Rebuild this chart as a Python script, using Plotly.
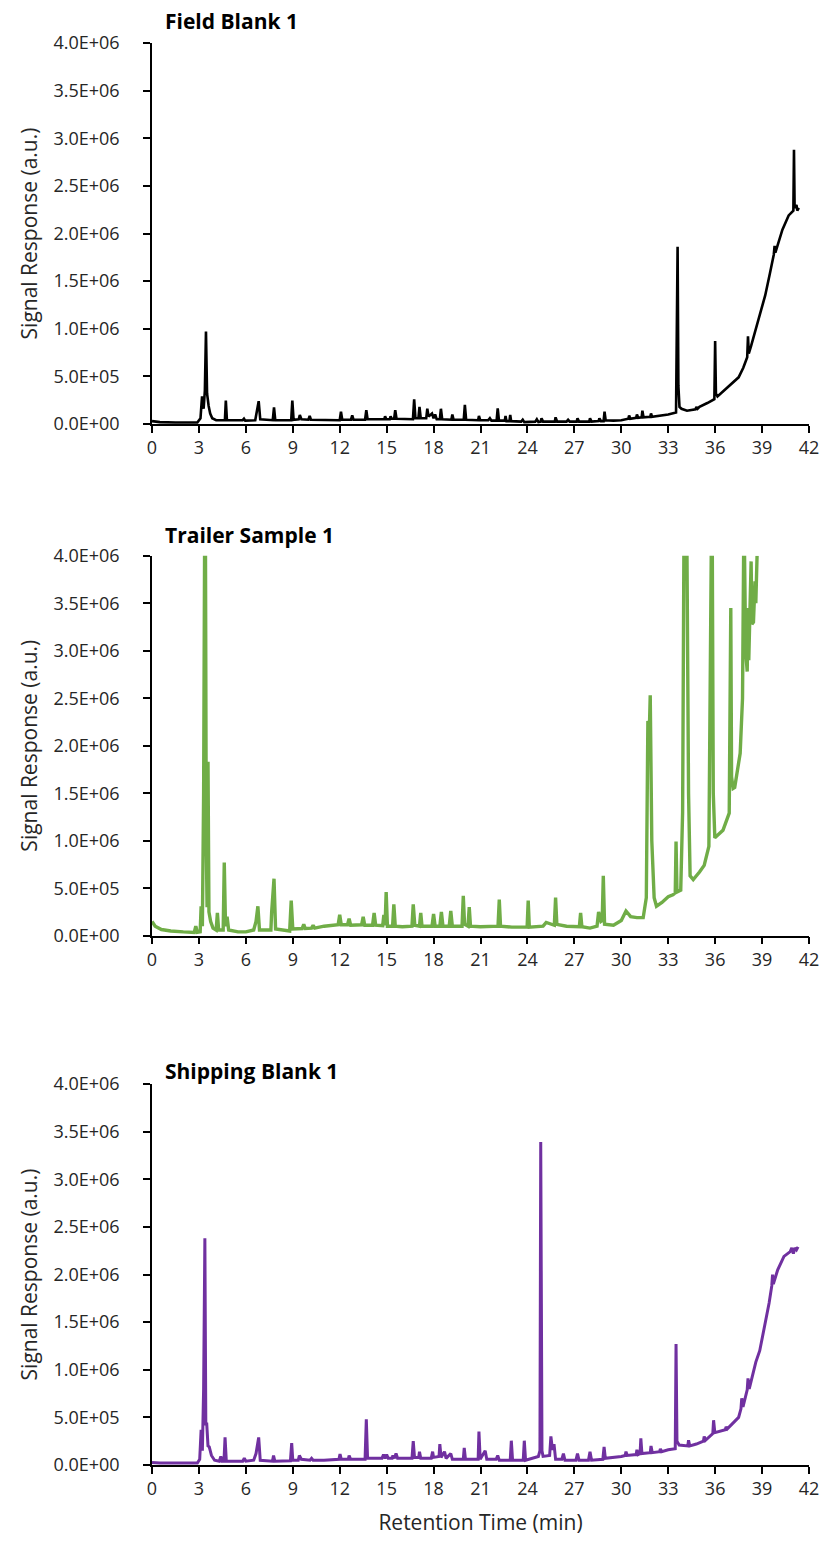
import plotly.graph_objects as go

# ---------------- data ----------------
fb_t = [0.0, 0.5, 1.5, 2.9, 3.1, 3.2, 3.3, 3.38, 3.45, 3.52, 3.62, 3.72, 3.85, 4.1, 4.66, 4.72, 4.79,
        5.8, 5.88, 5.96, 6.6, 6.72, 6.82, 6.92, 7.72, 7.8, 7.88, 8.9, 8.97, 9.05, 9.38, 9.45, 9.55,
        10.0, 10.08, 10.16, 11.0, 12.0, 12.08, 12.16, 12.72, 12.8, 12.88, 13.62, 13.7, 13.78,
        14.85, 14.9, 14.98, 15.2, 15.25, 15.33, 15.48, 15.55, 15.63, 16.68, 16.76, 16.84,
        17.03, 17.1, 17.18, 17.53, 17.6, 17.68, 17.9, 18.0, 18.1, 18.2, 18.4, 18.47, 18.55,
        19.14, 19.2, 19.28, 19.93, 20.0, 20.08, 20.85, 20.9, 20.98, 21.5, 21.6, 21.7,
        22.03, 22.1, 22.18, 22.55, 22.6, 22.66, 22.85, 22.9, 22.96, 23.6, 23.7, 23.8,
        24.5, 24.6, 24.7, 24.85, 24.9, 25.0, 25.75, 25.8, 25.9, 26.5, 26.6, 26.7,
        27.15, 27.2, 27.3, 27.95, 28.0, 28.1, 28.55, 28.6, 28.7, 28.87, 28.93, 29.0,
        29.5, 30.0, 30.45, 30.5, 30.58, 30.95, 31.0, 31.08, 31.3, 31.35, 31.42,
        31.85, 31.9, 31.97, 32.5, 33.0, 33.5, 33.55, 33.6, 33.65, 33.72, 33.85, 34.2,
        34.75, 34.8, 34.88, 35.0, 35.5, 35.95, 36.0, 36.05, 36.15, 36.5, 37.0, 37.5,
        37.8, 38.05, 38.1, 38.15, 38.3, 38.8, 39.2, 39.5, 39.75, 39.8, 39.85, 40.3,
        40.7, 41.0, 41.04, 41.08, 41.2, 41.25, 41.35]
fb_s = [3.0e4, 2.0e4, 1.5e4, 1.5e4, 6.0e4, 2.9e5, 1.6e5, 3.5e5, 9.7e5, 3.2e5, 1.9e5, 1.1e5, 6.0e4, 4.0e4, 4.0e4, 2.45e5, 4.0e4,
        4.0e4, 5.5e4, 3.5e4, 4.0e4, 1.5e5, 2.4e5, 5.0e4, 4.0e4, 1.75e5, 4.0e4, 4.0e4, 2.45e5, 4.5e4, 5.0e4, 9.5e4, 5.0e4,
        4.5e4, 8.5e4, 4.5e4, 4.0e4, 4.0e4, 1.3e5, 4.5e4, 4.5e4, 9.0e4, 4.5e4, 4.5e4, 1.45e5, 5.0e4,
        5.0e4, 8.0e4, 5.0e4, 5.0e4, 8.0e4, 5.5e4, 5.5e4, 1.45e5, 5.5e4, 5.0e4, 2.6e5, 6.0e4,
        6.0e4, 1.8e5, 6.0e4, 6.0e4, 1.6e5, 8.0e4, 1.1e5, 6.0e4, 1.0e5, 5.0e4, 5.0e4, 1.6e5, 5.0e4,
        4.5e4, 1.0e5, 4.5e4, 4.5e4, 2.0e5, 4.5e4, 4.0e4, 8.5e4, 4.0e4, 4.0e4, 6.0e4, 3.5e4,
        3.5e4, 1.65e5, 3.5e4, 3.5e4, 8.5e4, 3.0e4, 3.0e4, 9.5e4, 3.0e4, 2.5e4, 4.5e4, 2.0e4,
        2.5e4, 5.0e4, 2.0e4, 2.5e4, 6.0e4, 2.5e4, 2.5e4, 7.0e4, 2.5e4, 2.5e4, 4.5e4, 2.5e4,
        2.5e4, 6.0e4, 2.5e4, 2.5e4, 6.0e4, 2.5e4, 3.0e4, 6.0e4, 3.0e4, 3.0e4, 1.3e5, 4.0e4,
        3.5e4, 4.0e4, 5.5e4, 9.0e4, 5.5e4, 6.5e4, 1.0e5, 6.5e4, 7.0e4, 1.4e5, 7.0e4,
        7.5e4, 1.1e5, 7.5e4, 8.5e4, 1.0e5, 1.2e5, 1.2e6, 1.86e6, 4.0e5, 1.8e5, 1.6e5, 1.4e5,
        1.55e5, 1.8e5, 1.6e5, 1.8e5, 2.2e5, 2.6e5, 8.7e5, 3.2e5, 2.9e5, 3.4e5, 4.1e5, 4.9e5,
        5.9e5, 7.0e5, 9.2e5, 7.4e5, 8.2e5, 1.1e6, 1.35e6, 1.58e6, 1.78e6, 1.87e6, 1.8e6, 2.04e6,
        2.19e6, 2.24e6, 2.88e6, 2.27e6, 2.3e6, 2.24e6, 2.27e6]

tr_t = [0.0, 0.2, 0.6, 1.2, 2.0, 2.7, 2.8, 2.9, 3.08, 3.14, 3.22, 3.3, 3.36, 3.42, 3.47, 3.52, 3.58, 3.64,
        3.75, 3.9, 4.1, 4.18, 4.26, 4.55, 4.62, 4.7, 4.8, 4.9, 5.5, 6.0, 6.5, 6.65, 6.77, 6.87,
        7.6, 7.65, 7.8, 7.9, 8.8, 8.9, 9.0, 9.6, 9.7, 9.8, 10.2, 10.3, 10.4, 11.0, 11.9, 12.0, 12.1,
        12.5, 12.6, 12.7, 13.4, 13.5, 13.6, 14.1, 14.2, 14.3, 14.75, 14.82, 14.9, 14.97, 15.05,
        15.38, 15.46, 15.55, 16.0, 16.62, 16.7, 16.8, 17.1, 17.18, 17.26, 17.9, 18.0, 18.1,
        18.4, 18.5, 18.6, 19.0, 19.1, 19.2, 19.82, 19.9, 19.98, 20.2, 20.28, 20.36, 21.0, 21.5,
        22.12, 22.2, 22.28, 23.0, 23.98, 24.05, 24.12, 25.0, 25.2, 25.72, 25.8, 25.88, 26.5,
        27.32, 27.4, 27.48, 28.0, 28.45, 28.55, 28.7, 28.78, 28.85, 28.93, 29.5, 30.0, 30.3,
        30.6, 31.0, 31.4, 31.6, 31.7, 31.8, 31.85, 31.95, 32.1, 32.25, 32.6, 33.0, 33.3, 33.45,
        33.5, 33.56, 33.8, 33.92, 34.0, 34.2, 34.3, 34.4, 34.6, 35.0, 35.3, 35.6, 35.7, 35.75,
        35.82, 35.88, 35.98, 36.5, 36.9, 36.95, 37.0, 37.05, 37.15, 37.25, 37.6, 37.75, 37.82,
        37.88, 37.95, 38.05, 38.1, 38.15, 38.3, 38.35, 38.45, 38.55, 38.6, 38.68]
tr_s = [1.5e5, 1.0e5, 6.5e4, 5.0e4, 4.0e4, 3.5e4, 1.0e5, 3.5e4, 4.0e4, 3.1e5, 1.0e5, 1.5e6, 4.0e6, 4.0e6, 1.0e6, 3.0e5, 1.83e6, 2.5e5,
        1.5e5, 8.0e4, 6.0e4, 2.4e5, 6.0e4, 6.0e4, 7.7e5, 1.0e5, 2.0e5, 6.0e4, 4.0e4, 4.0e4, 6.0e4, 1.5e5, 3.1e5, 6.0e4,
        6.0e4, 2.5e5, 6.0e5, 7.0e4, 5.0e4, 3.7e5, 7.0e4, 7.5e4, 1.2e5, 7.5e4, 8.0e4, 1.1e5, 8.0e4, 1.0e5, 1.15e5, 2.2e5, 1.15e5,
        1.15e5, 1.8e5, 1.1e5, 1.15e5, 2.0e5, 1.1e5, 1.1e5, 2.4e5, 1.1e5, 1.05e5, 2.2e5, 1.1e5, 4.6e5, 1.0e5,
        1.0e5, 3.3e5, 1.0e5, 9.5e4, 1.0e5, 3.3e5, 1.1e5, 1.0e5, 2.4e5, 1.0e5, 1.0e5, 2.3e5, 1.0e5,
        1.0e5, 2.5e5, 1.0e5, 1.0e5, 2.6e5, 1.0e5, 1.0e5, 4.2e5, 1.2e5, 1.0e5, 3.0e5, 1.0e5, 9.5e4, 1.0e5,
        1.0e5, 3.8e5, 1.0e5, 9.0e4, 9.0e4, 3.7e5, 9.0e4, 1.0e5, 1.4e5, 1.1e5, 4.0e5, 1.2e5, 1.0e5,
        9.5e4, 2.4e5, 9.5e4, 8.0e4, 1.0e5, 2.5e5, 1.5e5, 1.6e5, 6.3e5, 1.2e5, 1.1e5, 1.6e5, 2.6e5,
        2.0e5, 1.9e5, 1.9e5, 4.0e5, 2.26e6, 2.2e6, 2.53e6, 1.0e6, 4.0e5, 3.1e5, 3.5e5, 4.1e5, 4.3e5, 4.5e5,
        9.9e5, 4.6e5, 4.8e5, 1.3e6, 4.0e6, 4.0e6, 1.5e6, 6.3e5, 5.9e5, 6.7e5, 7.4e5, 9.4e5, 2.5e6, 4.0e6,
        4.0e6, 1.5e6, 1.03e6, 1.11e6, 1.29e6, 2.0e6, 3.45e6, 1.67e6, 1.55e6, 1.56e6, 1.92e6, 2.5e6, 4.0e6,
        4.0e6, 3.0e6, 2.78e6, 3.45e6, 2.9e6, 3.94e6, 3.28e6, 3.3e6, 3.73e6, 3.5e6, 4.0e6]

sb_t = [0.0, 0.5, 2.9, 3.05, 3.14, 3.22, 3.3, 3.38, 3.44, 3.5, 3.58, 3.66, 3.8, 4.0, 4.3, 4.4, 4.48,
        4.6, 4.67, 4.75, 5.8, 5.9, 6.0, 6.5, 6.65, 6.82, 6.92, 7.7, 7.77, 7.85, 8.85, 8.93, 9.0,
        9.35, 9.42, 9.55, 10.1, 10.2, 10.3, 11.0, 11.95, 12.02, 12.1, 12.55, 12.6, 12.7,
        13.62, 13.7, 13.78, 14.7, 14.8, 14.9, 15.0, 15.1, 15.35, 15.4, 15.5, 15.6, 15.7,
        16.62, 16.7, 16.78, 17.05, 17.1, 17.18, 17.85, 17.94, 18.0, 18.35, 18.4, 18.48, 18.7, 18.8,
        19.1, 19.2, 19.9, 19.96, 20.04, 20.85, 20.9, 20.98, 21.3, 21.4, 22.0, 22.1, 22.2,
        22.9, 22.97, 23.05, 23.73, 23.8, 23.88, 24.7, 24.8, 24.85, 24.93, 25.0, 25.42, 25.5, 25.6,
        25.7, 25.8, 26.2, 26.3, 26.4, 27.1, 27.2, 27.3, 27.9, 28.0, 28.1, 28.82, 28.9, 28.98,
        30.0, 30.25, 30.3, 30.38, 30.95, 31.0, 31.08, 31.2, 31.25, 31.32, 31.85, 31.9, 31.98,
        32.45, 32.5, 32.58, 33.0, 33.45, 33.5, 33.56, 33.7, 34.25, 34.3, 34.38, 34.8, 35.25, 35.3,
        35.38, 35.85, 35.9, 35.98, 36.65, 36.7, 36.78, 37.5, 37.56, 37.65, 37.7, 37.78, 38.05,
        38.1, 38.18, 38.6, 38.85, 39.1, 39.45, 39.62, 39.67, 39.72, 40.0, 40.4, 40.8, 40.9, 41.0,
        41.1, 41.2, 41.3]
sb_s = [2.5e4, 2.0e4, 2.0e4, 6.0e4, 3.7e5, 1.5e5, 8.0e5, 2.38e6, 4.3e5, 4.3e5, 2.0e5, 1.9e5, 1.0e5, 5.0e4, 4.0e4, 9.0e4, 4.0e4,
        4.0e4, 2.9e5, 4.0e4, 4.0e4, 7.0e4, 4.0e4, 5.0e4, 1.2e5, 2.9e5, 5.0e4, 4.0e4, 1.0e5, 4.0e4, 4.5e4, 2.3e5, 5.0e4,
        5.0e4, 1.0e5, 6.0e4, 5.0e4, 7.0e4, 5.0e4, 5.0e4, 6.0e4, 1.15e5, 6.0e4, 6.0e4, 1.0e5, 6.0e4,
        6.0e4, 4.8e5, 7.0e4, 7.0e4, 1.1e5, 7.0e4, 1.1e5, 7.0e4, 7.0e4, 1.0e5, 7.0e4, 1.2e5, 7.0e4,
        7.0e4, 2.5e5, 8.0e4, 8.0e4, 1.4e5, 7.0e4, 7.0e4, 1.4e5, 8.0e4, 9.0e4, 2.2e5, 8.0e4, 1.4e5, 7.0e4,
        1.2e5, 6.0e4, 6.0e4, 1.8e5, 6.0e4, 6.0e4, 3.5e5, 6.0e4, 1.5e5, 6.0e4, 6.0e4, 1.0e5, 5.0e4,
        5.0e4, 2.55e5, 5.0e4, 5.0e4, 2.55e5, 5.0e4, 9.0e4, 1.5e5, 3.39e6, 1.5e5, 9.0e4, 1.0e5, 3.0e5, 1.6e5,
        2.2e5, 6.0e4, 6.0e4, 1.2e5, 5.0e4, 5.0e4, 1.2e5, 5.0e4, 5.0e4, 1.4e5, 5.0e4, 6.0e4, 1.9e5, 7.0e4,
        9.0e4, 1.0e5, 1.4e5, 1.0e5, 1.1e5, 1.6e5, 1.1e5, 1.2e5, 2.8e5, 1.2e5, 1.3e5, 2.0e5, 1.3e5,
        1.4e5, 1.7e5, 1.4e5, 1.6e5, 1.7e5, 1.27e6, 2.5e5, 2.1e5, 2.0e5, 2.6e5, 2.0e5, 2.2e5, 2.5e5, 3.0e5,
        2.6e5, 3.3e5, 4.7e5, 3.4e5, 3.7e5, 4.0e5, 3.8e5, 5.0e5, 5.4e5, 5.9e5, 7.0e5, 6.1e5, 7.9e5,
        9.1e5, 8.0e5, 1.08e6, 1.2e6, 1.4e6, 1.7e6, 1.88e6, 2.0e6, 1.9e6, 2.05e6, 2.19e6, 2.24e6, 2.28e6, 2.22e6,
        2.28e6, 2.26e6, 2.29e6]

panel_titles = ["Field Blank 1", "Trailer Sample 1", "Shipping Blank 1"]
x_ticks = [0, 3, 6, 9, 12, 15, 18, 21, 24, 27, 30, 33, 36, 39, 42]
y_tickvals = [0, 5e5, 1e6, 1.5e6, 2e6, 2.5e6, 3e6, 3.5e6, 4e6]
y_ticktext = ["0.0E+00", "5.0E+05", "1.0E+06", "1.5E+06", "2.0E+06",
              "2.5E+06", "3.0E+06", "3.5E+06", "4.0E+06"]

# ---------------- layout geometry (pixels) ----------------
W, H = 831, 1564
ML, MR, MT, MB = 152, 14, 43, 99
plot_h = H - MT - MB
bottom_px = H - MB


def frac(ypix):
    return (bottom_px - ypix) / plot_h


panels = [(43, 424), (555.7, 935.7), (1084, 1465)]  # (top, bottom) px
title_y = [21, 535, 1071]
colors = ["#000000", "#70AD47", "#7030A0"]
widths = [2.6, 3.4, 3.0]
series = [(fb_t, fb_s), (tr_t, tr_s), (sb_t, sb_s)]

FONT = "Open Sans"
TXT = "#262626"
TICK_SIZE = 18

fig = go.Figure()
layout = dict(
    width=W, height=H,
    margin=dict(l=ML, r=MR, t=MT, b=MB),
    paper_bgcolor="white", plot_bgcolor="white",
    showlegend=False,
    font=dict(family=FONT, size=TICK_SIZE, color=TXT),
    annotations=[],
)

for i, ((t, s), col, lw) in enumerate(zip(series, colors, widths)):
    n = "" if i == 0 else str(i + 1)
    fig.add_trace(go.Scatter(x=t, y=s, mode="lines", xaxis="x" + n, yaxis="y" + n,
                             line=dict(color=col, width=lw), hoverinfo="skip"))
    top, bot = panels[i]
    layout["xaxis" + n] = dict(
        domain=[0, 1], anchor="y" + n, range=[0, 42],
        tickmode="array", tickvals=x_ticks,
        showline=True, linecolor="#000000", linewidth=1.5,
        ticks="outside", ticklen=7, tickcolor="#000000", tickwidth=1.5,
        showgrid=False, zeroline=False,
        tickfont=dict(family=FONT, size=TICK_SIZE, color=TXT),
    )
    layout["yaxis" + n] = dict(
        domain=[frac(bot), frac(top)], anchor="x" + n, range=[0, 4e6],
        tickmode="array", tickvals=y_tickvals, ticktext=y_ticktext,
        showline=True, linecolor="#000000", linewidth=1.5,
        ticks="outside", ticklen=7, tickcolor="#000000", tickwidth=1.5,
        ticklabelstandoff=20,
        showgrid=False, zeroline=False,
        tickfont=dict(family=FONT, size=TICK_SIZE, color=TXT),
        title=dict(text="Signal Response (a.u.)", standoff=10,
                   font=dict(family=FONT, size=21, color=TXT)),
    )
    layout["annotations"].append(dict(
        text="<b>" + panel_titles[i] + "</b>", xref="paper", yref="paper",
        x=(163 - ML) / (W - ML - MR), y=frac(title_y[i]),
        xanchor="left", yanchor="middle", showarrow=False,
        font=dict(family=FONT, size=21, color="#000000"),
    ))

layout["xaxis3"]["title"] = dict(text="Retention Time (min)", standoff=16,
                                 font=dict(family=FONT, size=21, color=TXT))

fig.update_layout(**layout)
fig.write_html("out.html")
